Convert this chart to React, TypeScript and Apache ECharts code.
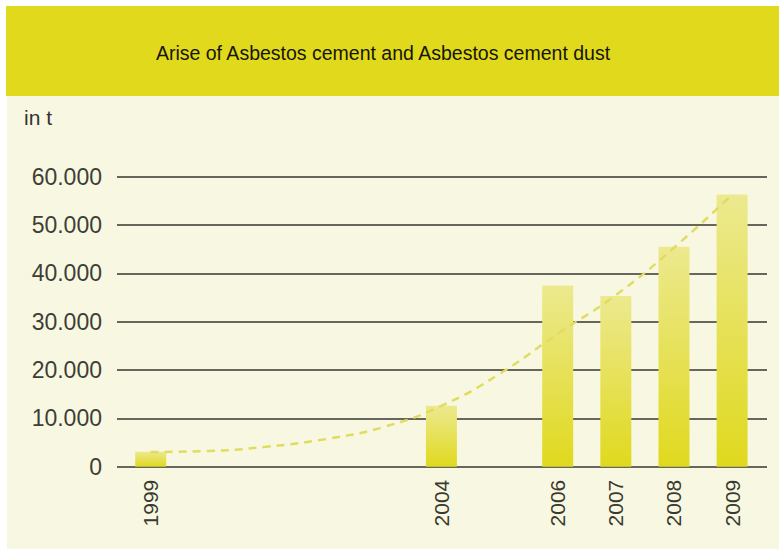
import React, { useEffect, useRef } from "react";
import * as echarts from "echarts";

const titleText = "Arise of Asbestos cement and Asbestos cement dust";
const unitLabel = "in t";
const barYears = [1999, 2004, 2006, 2007, 2008, 2009];
const barValues = [3100, 12600, 37500, 35300, 45500, 56300];
const trendYears = [1999, 2000, 2001, 2002, 2003, 2004, 2005, 2006, 2007, 2008, 2009];
const trendValues = [3050, 3250, 4150, 5700, 8200, 12600, 19200, 27500, 35500, 45300, 56300];
const yTicks = [0, 10000, 20000, 30000, 40000, 50000, 60000];

export default function App() {
  const ref = useRef<HTMLDivElement>(null);
  useEffect(() => {
    if (!ref.current) return;
    const chart = echarts.init(ref.current, null, { renderer: "svg" });
    const fmt = (v: number) => {
      if (v === 0) return "0";
      const k = Math.floor(v / 1000);
      return k + ".000";
    };
    chart.setOption({
      animation: false,
      backgroundColor: "#f8f8e2",
      graphic: [
        { type: "rect", shape: { x: 0, y: 0, width: 779, height: 6 }, style: { fill: "#ffffff" }, silent: true },
        { type: "rect", shape: { x: 0, y: 0, width: 7, height: 549 }, style: { fill: "#ffffff" }, silent: true },
        { type: "rect", shape: { x: 6, y: 6, width: 773, height: 90 }, style: { fill: "#e1d91b" }, silent: true },
        {
          type: "text",
          x: 383,
          y: 53,
          style: {
            text: titleText,
            fill: "#16160a",
            font: "19.5px 'Liberation Sans', Arial, sans-serif",
            textAlign: "center",
            textVerticalAlign: "middle",
          },
          silent: true,
        },
        {
          type: "text",
          x: 24,
          y: 117,
          style: {
            text: unitLabel,
            fill: "#333333",
            font: "21px 'Liberation Sans', Arial, sans-serif",
            textAlign: "left",
            textVerticalAlign: "middle",
          },
          silent: true,
        },
      ],
      grid: { left: 117, right: 12, top: 176.7, bottom: 82.3, containLabel: false },
      xAxis: {
        type: "value",
        min: 1998.42,
        max: 2009.6,
        axisLine: { show: false },
        axisTick: { show: false },
        splitLine: { show: false },
        axisLabel: {
          customValues: barYears,
          rotate: 90,
          margin: 13,
          fontSize: 21,
          color: "#3a3a30",
          fontFamily: "'Liberation Sans', Arial, sans-serif",
          formatter: (v: number) => String(Math.round(v)),
        },
      },
      yAxis: {
        type: "value",
        min: 0,
        max: 60000,
        interval: 10000,
        axisLine: { show: false },
        axisTick: { show: false },
        splitLine: { show: true, lineStyle: { color: "#66665a", width: 2 } },
        axisLabel: {
          margin: 15,
          fontSize: 23,
          color: "#3e3e36",
          fontFamily: "'Liberation Sans', Arial, sans-serif",
          formatter: (v: number) => (yTicks.includes(v) ? fmt(v) : ""),
        },
      },
      series: [
        {
          type: "bar",
          barWidth: 31,
          data: barYears.map((y, i) => [y, barValues[i]]),
          itemStyle: {
            color: new echarts.graphic.LinearGradient(0, 0, 0, 1, [
              { offset: 0, color: "#ece98f" },
              { offset: 1, color: "#e0d91e" },
            ]),
          },
          z: 2,
        },
        {
          type: "line",
          smooth: true,
          symbol: "none",
          data: trendYears.map((y, i) => [y, trendValues[i]]),
          lineStyle: { color: "#e0dc62", width: 2.5, type: [8, 6] },
          z: 3,
        },
      ],
    });
    return () => chart.dispose();
  }, []);
  return (
    <div
      ref={ref}
      style={{ position: "fixed", left: 0, top: 0, width: 779, height: 549 }}
    />
  );
}
